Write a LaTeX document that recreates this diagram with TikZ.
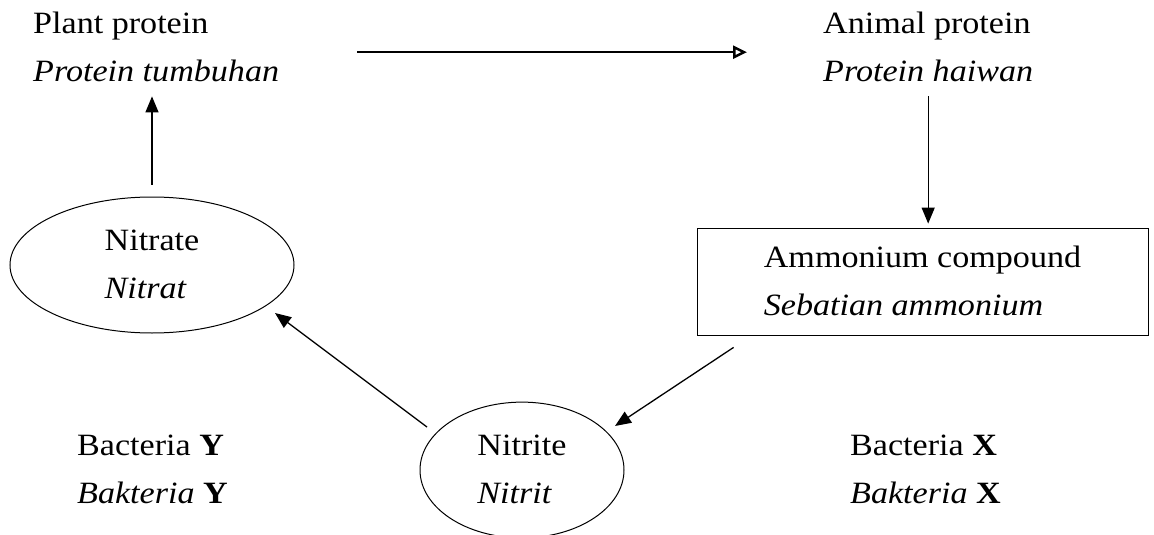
\documentclass[tikz,border=0pt]{standalone}
\usepackage{fontspec}
\setmainfont{Liberation Serif}[FakeStretch=1.1]
\usetikzlibrary{shapes.geometric,arrows.meta}
\tikzset{
  txt/.style={align=left, inner sep=0pt, font=\fontsize{31}{48}\selectfont},
  lbl/.style={txt, anchor=north west},
  oval/.style={txt, ellipse, draw, line width=1pt},
  panel/.style={txt, rectangle, draw, line width=0.8pt,
    minimum width=451pt, minimum height=107pt},
  arr/.style={line width=1.3pt, -{Triangle[length=16pt,width=13pt]}},
  openarr/.style={line width=1.6pt, -{Triangle[open,length=14pt,width=13pt,line width=2.5pt]}}
}
\begin{document}
\begin{tikzpicture}[x=1pt,y=-1pt]
\useasboundingbox (0,0) rectangle (1154,535);

% protein sources
\node[lbl] (plant) at (33,0) {\strut Plant protein\\\strut\textit{Protein tumbuhan}};
\node[lbl] (animal) at (823,0) {\strut Animal protein\\\strut\textit{Protein haiwan}};

% nitrogen compounds
\node[panel] (box) at (922.5,281.5) {\strut Ammonium compound\\\strut\textit{Sebatian ammonium}};
\node[oval, minimum width=284pt, minimum height=136pt] (nitrate) at (152,265)
  {\strut Nitrate\\\strut\textit{Nitrat}};
\node[oval, minimum width=204pt, minimum height=130pt] (nitrite) at (522,470)
  {\strut Nitrite\\\strut\textit{Nitrit}};

% bacteria
\node[lbl] (bacY) at (77,421.4) {\strut Bacteria \textbf{Y}\\\strut\textit{Bakteria} \textbf{Y}};
\node[lbl] (bacX) at (850,421.4) {\strut Bacteria \textbf{X}\\\strut\textit{Bakteria} \textbf{X}};

% cycle
\draw[openarr, shorten <=78pt, shorten >=76pt]
  ([yshift=-4pt]plant.east) -- ([yshift=-4pt]plant.east -| animal.west);
\draw[arr, shorten >=4pt] (animal.south) -- (animal.south |- box.north);
\draw[arr] ([xshift=37pt,yshift=-12pt]box.south west) -- ([xshift=93pt,yshift=44pt]nitrite.center);
\draw[arr] ([xshift=-95pt,yshift=43pt]nitrite.center) -- ([xshift=123pt,yshift=-48pt]nitrate.center);
\draw[arr, shorten <=12pt] (nitrate.north) -- (nitrate.north |- plant.south);
\end{tikzpicture}
\end{document}
